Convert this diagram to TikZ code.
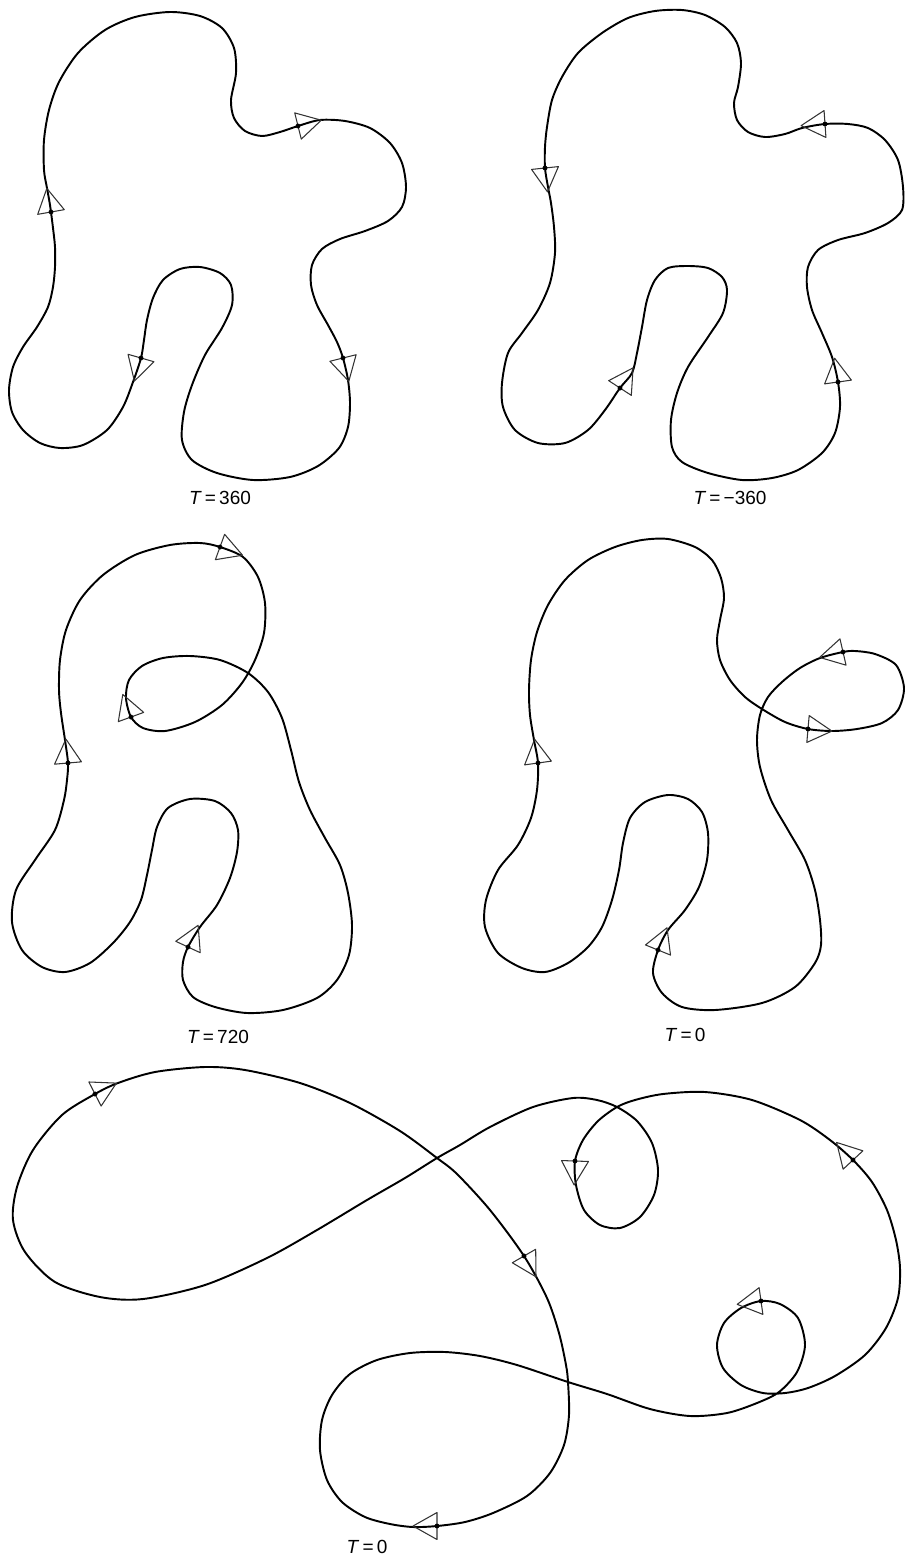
\documentclass[tikz,border=0pt]{standalone}
\usepackage{fontspec}
\setsansfont{Liberation Sans}

\begin{document}
\begin{tikzpicture}[x=0.01cm, y=-0.01cm,
  curve/.style={line width=0.55pt, line join=round},
  markline/.style={line width=0.3pt, black!80, line join=round},
  tlabel/.style={font=\sffamily\fontsize{5.4}{6}\selectfont, inner sep=0pt},
  flowmark/.pic={
    \draw[markline] (0,13.5) -- (24,0) -- (0,-13.5) -- cycle;
    \fill (0,0) circle (0.7pt);
  }
]
\useasboundingbox (0,0) rectangle (905,1554);

% T=360
\draw[curve] plot[smooth cycle] coordinates {
  (44,170) (44,140) (49,110) (59,82) (78,53) (105,30) (135,17) (170,12) (200,16)
  (222,28) (234,48) (236,73) (231,100) (234,118) (245,131) (262,136) (280,132)
  (298,126) (320,120) (345,121) (370,128) (390,143) (402,163) (406,187) (402,207)
  (388,221) (365,231) (340,239) (322,249) (312,265) (311,285) (317,305) (328,325)
  (337,342) (343,358) (348,380) (350,403) (348,427) (339,448) (318,466) (290,477)
  (253,480) (217,473) (192,460) (182,440) (184,412) (192,385) (205,355) (222,328)
  (232,305) (231,285) (220,273) (200,267) (180,269) (163,280) (153,298) (147,320)
  (144,340) (141,358) (133,382) (123,407) (107,430) (83,445) (60,448) (40,443)
  (23,430) (12,412) (9,390) (13,367) (23,347) (37,327) (48,307) (53,287) (55,267)
  (55,247) (53,228) (50,205) (47,188)};
\pic[rotate=14] at (298,126) {flowmark};
\pic[rotate=-76] at (343,358) {flowmark};
\pic[rotate=-106] at (141,358) {flowmark};
\pic[rotate=100] at (51,212) {flowmark};
\node[tlabel] (lab360) at (220,498) {\textit{T}\,=\,360};

% T=-360
\draw[curve] plot[smooth cycle] coordinates {
  (545,168) (545,147) (547,127) (552,100) (562,77) (578,53) (602,33) (628,18)
  (655,11) (682,10) (705,15) (725,27) (737,43) (741,63) (738,87) (734,103)
  (737,120) (748,132) (765,137) (785,134) (802,128) (825,124) (848,124) (868,128)
  (885,140) (898,160) (903,187) (902,210) (888,223) (865,233) (838,240) (818,250)
  (808,267) (807,287) (812,310) (822,333) (832,357) (838,382) (840,407) (835,433)
  (822,453) (798,470) (772,478) (742,480) (708,473) (682,462) (672,447) (671,420)
  (677,393) (688,367) (708,337) (723,313) (727,290) (722,277) (708,268) (688,266)
  (668,268) (655,280) (647,300) (642,327) (637,353) (632,373) (620,388) (605,410)
  (588,430) (565,443) (538,443) (515,430) (503,407) (502,383) (508,353) (522,333)
  (538,310) (550,283) (555,253) (554,227) (551,203) (548,187)};
\pic[rotate=184] at (825,124) {flowmark};
\pic[rotate=-84] at (545,168) {flowmark};
\pic[rotate=57] at (620,388) {flowmark};
\pic[rotate=98] at (838,382) {flowmark};
\node[tlabel] (labm360) at (730,498) {\textit{T}\,=\,−360};

% T=720
\draw[curve] plot[smooth cycle] coordinates {
  (68,763) (65,740) (61,713) (59,690) (60,660) (66,630) (80,600) (103,575)
  (135,555) (170,545) (200,543) (220,547) (243,557) (258,577) (265,603) (264,633)
  (255,660) (242,683) (222,705) (195,722) (165,731) (143,728) (131,717) (126,698)
  (129,680) (142,666) (163,658) (190,656) (220,660) (248,673) (268,692) (282,718)
  (291,750) (299,782) (310,810) (325,838) (340,865) (348,893) (352,925) (349,955)
  (337,980) (317,998) (283,1010) (247,1013) (215,1007) (193,997) (183,980)
  (183,962) (188,947) (200,927) (217,905) (230,878) (237,852) (238,830) (231,813)
  (215,801) (190,799) (168,808) (157,827) (152,850) (147,875) (141,900) (130,922)
  (113,943) (90,963) (65,972) (42,967) (22,950) (12,922) (16,890) (35,860)
  (55,830) (64,800) (67,780)};
\pic[rotate=-20] at (220,547) {flowmark};
\pic[rotate=110] at (131,717) {flowmark};
\pic[rotate=95] at (68,763) {flowmark};
\pic[rotate=65] at (188,947) {flowmark};
\node[tlabel] (lab720) at (218,1037) {\textit{T}\,=\,720};

% T=0, middle
\draw[curve] plot[smooth cycle] coordinates {
  (538,763) (534,740) (530,715) (529,690) (531,660) (537,632) (548,605) (565,580)
  (588,560) (615,547) (642,540) (668,539) (695,547) (712,560) (721,578) (724,598)
  (720,620) (717,640) (720,660) (730,680) (745,697) (762,709) (785,722) (808,729)
  (832,731) (857,729) (882,723) (898,710) (904,688) (896,665) (875,654) (855,651)
  (843,652) (820,658) (800,668) (782,682) (768,697) (760,715) (757,740) (760,767)
  (771,800) (788,830) (805,860) (815,890) (820,920) (821,945) (815,963) (795,987)
  (762,1003) (715,1010) (682,1007) (662,993) (653,973) (658,950) (668,930)
  (685,910) (699,887) (707,860) (708,833) (702,812) (688,799) (668,795) (645,802)
  (630,818) (623,843) (619,870) (612,900) (602,927) (588,947) (568,963) (545,972)
  (522,968) (498,953) (485,927) (486,900) (498,870) (518,845) (531,818) (537,790)};
\pic[rotate=98] at (538,763) {flowmark};
\pic[rotate=-5] at (808,729) {flowmark};
\pic[rotate=193] at (843,652) {flowmark};
\pic[rotate=68] at (658,950) {flowmark};
\node[tlabel] (labzeroa) at (685,1035) {\textit{T}\,=\,0};

% T=0, bottom
\draw[curve] plot[smooth cycle] coordinates {
  (437,1526) (413,1527) (390,1524) (365,1517) (342,1502) (327,1480) (320,1450)
  (322,1420) (332,1395) (350,1374) (377,1360) (410,1353) (445,1352) (480,1356)
  (517,1365) (568,1382) (607,1394) (650,1409) (690,1416) (727,1413) (757,1403)
  (779,1392) (797,1372) (805,1345) (798,1318) (780,1304) (761,1301) (741,1308)
  (724,1323) (717,1345) (723,1368) (741,1385) (763,1393) (785,1393) (808,1388)
  (835,1376) (865,1355) (886,1328) (898,1298) (900,1268) (896,1240) (887,1210)
  (872,1182) (853,1160) (830,1140) (800,1120) (752,1100) (705,1092) (663,1094)
  (635,1100) (617,1107) (598,1121) (583,1140) (575,1161) (576,1185) (584,1210)
  (600,1225) (620,1228) (640,1217) (654,1195) (658,1170) (652,1143) (637,1121)
  (617,1107) (597,1100) (573,1098) (533,1107) (490,1127) (460,1145) (437,1158)
  (405,1178) (367,1200) (317,1230) (267,1258) (205,1285) (143,1299) (100,1297)
  (55,1282) (25,1252) (13,1220) (17,1187) (33,1150) (62,1115) (95,1094)
  (118,1083) (155,1072) (205,1067) (245,1070) (300,1083) (350,1103) (400,1131)
  (437,1158) (457,1174) (490,1210) (524,1256) (547,1298) (559,1333) (566,1365)
  (568,1382) (569,1415) (564,1445) (550,1473) (527,1496) (493,1513) (465,1522)};
\pic[rotate=27] at (95,1094) {flowmark};
\pic[rotate=-92] at (575,1161) {flowmark};
\pic[rotate=133] at (853,1160) {flowmark};
\pic[rotate=-60] at (524,1256) {flowmark};
\pic[rotate=188] at (761,1301) {flowmark};
\pic[rotate=180] at (437,1526) {flowmark};
\node[tlabel] (labzerob) at (367,1547) {\textit{T}\,=\,0};
\end{tikzpicture}
\end{document}
